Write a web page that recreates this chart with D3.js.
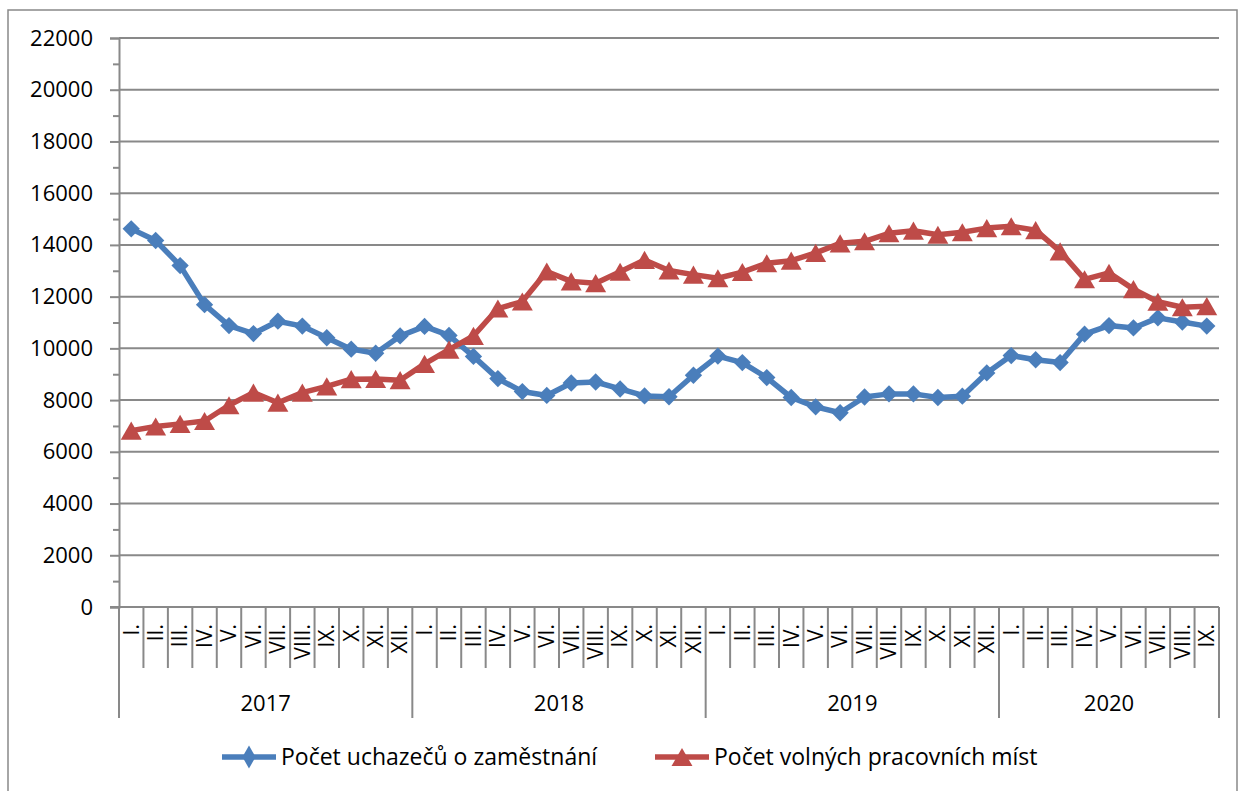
<!DOCTYPE html>
<html lang="cs">

<head>
    <meta charset="UTF-8">
    <title>Uchazeči a volná místa</title>
    <script src="https://unpkg.com/d3@7.8.5/dist/d3.min.js"></script>
    <style>
        body { margin: 0; background: #fff; }
        svg { display: block; font-family: "Open Sans", sans-serif; }
    </style>
</head>

<body>
    <svg width="1239" height="791"></svg>
    <script>
        // data
        var years = ['2017', '2018', '2019', '2020']
        var monthsPerYear = [12, 12, 12, 9]
        var months = ['I.', 'II.', 'III.', 'IV.', 'V.', 'VI.', 'VII.', 'VIII.', 'IX.', 'X.', 'XI.', 'XII.']
        var yTicks = [0, 2000, 4000, 6000, 8000, 10000, 12000, 14000, 16000, 18000, 20000, 22000]

        var uchazeci = [
            14620, 14170, 13200, 11690, 10880, 10570, 11050, 10860, 10410, 9970, 9810, 10480,
            10850, 10500, 9690, 8830, 8330, 8180, 8660, 8700, 8430, 8160, 8130, 8960,
            9700, 9450, 8870, 8100, 7740, 7510, 8120, 8240, 8240, 8100, 8150, 9050,
            9720, 9560, 9450, 10550, 10880, 10790, 11180, 11020, 10860
        ]
        var volnaMista = [
            6820, 6980, 7080, 7190, 7800, 8290, 7900, 8290, 8530, 8810, 8820, 8770,
            9400, 9950, 10480, 11540, 11810, 12970, 12590, 12520, 12960, 13420, 13010, 12850,
            12710, 12950, 13290, 13390, 13690, 14060, 14140, 14450, 14550, 14390, 14490, 14650,
            14720, 14570, 13750, 12670, 12920, 12290, 11800, 11590, 11630
        ]
        var seriesNames = ['Počet uchazečů o zaměstnání', 'Počet volných pracovních míst']

        // categories: one per month
        var cats = []
        years.forEach(function (y, yi) {
            for (var m = 0; m < monthsPerYear[yi]; m++) cats.push({ year: y, month: months[m], first: m == 0 })
        })

        var svg = d3.select('svg')
        var grey = '#898989'
        var blue = '#4a7ebb'
        var red = '#be4b48'

        // outer chart border
        svg.append('rect')
            .attr('x', 8).attr('y', 10).attr('width', 1229).attr('height', 800)
            .attr('fill', 'none').attr('stroke', grey).attr('stroke-width', 1.5)

        var plotLeft = 119, plotRight = 1219, plotTop = 38, plotBottom = 607

        var x = d3.scaleBand().domain(d3.range(cats.length)).range([plotLeft, plotRight]).padding(0)
        var y = d3.scaleLinear().domain([0, 22000]).range([plotBottom, plotTop])
        var cx = function (d, i) { return x(i) + x.bandwidth() / 2 }

        // gridlines
        svg.append('g').selectAll('line').data(yTicks.slice(1)).enter()
            .append('line')
            .attr('x1', plotLeft).attr('x2', plotRight)
            .attr('y1', y).attr('y2', y)
            .attr('stroke', grey).attr('stroke-width', 2)

        // y axis (major + minor ticks)
        var yAxis = svg.append('g').attr('transform', 'translate(' + plotLeft + ',0)')
            .call(d3.axisLeft(y).tickValues(yTicks).tickSize(9).tickPadding(17).tickFormat(d3.format('d')))
        svg.append('g').attr('transform', 'translate(' + plotLeft + ',0)')
            .call(d3.axisLeft(y).tickValues(d3.range(1000, 22000, 2000)).tickSize(6).tickFormat(''))
            .select('.domain').remove()
        svg.selectAll('.domain, .tick line').attr('stroke', grey).attr('stroke-width', 2)
        yAxis.selectAll('text').attr('font-size', 22).attr('fill', '#000')
            .attr('font-family', '"Open Sans", sans-serif')

        // x axis line + category dividers
        svg.append('line').attr('x1', plotLeft - 9).attr('x2', plotRight).attr('y1', plotBottom).attr('y2', plotBottom)
            .attr('stroke', grey).attr('stroke-width', 2)
        var bounds = d3.range(cats.length + 1)
        svg.append('g').selectAll('line').data(bounds).enter()
            .append('line')
            .attr('x1', function (i) { return x(0) + i * x.bandwidth() })
            .attr('x2', function (i) { return x(0) + i * x.bandwidth() })
            .attr('y1', plotBottom)
            .attr('y2', function (i) { return (i == cats.length || (cats[i] && cats[i].first)) ? 718 : 668 })
            .attr('stroke', grey).attr('stroke-width', 2)

        // month labels, rotated
        svg.append('g').selectAll('text').data(cats).enter()
            .append('text')
            .text(function (d) { return d.month })
            .attr('transform', function (d, i) { return 'translate(' + cx(d, i) + ',624) rotate(-90)' })
            .attr('text-anchor', 'end')
            .attr('dy', '0.35em')
            .attr('font-size', 21)

        // year labels
        var start = 0
        years.forEach(function (yr, yi) {
            var a = x(start), b = x(start + monthsPerYear[yi] - 1) + x.bandwidth()
            svg.append('text').text(yr)
                .attr('x', (a + b) / 2).attr('y', 711)
                .attr('text-anchor', 'middle').attr('font-size', 22)
            start += monthsPerYear[yi]
        })

        // series
        var line = d3.line().x(function (d, i) { return cx(d, i) }).y(function (d) { return y(d) })
        // square turned 45deg = excel-like diamond marker
        var square = d3.symbol().type(d3.symbolSquare).size(150)
        var diamond = d3.symbol().type(d3.symbolDiamond).size(150)
        var triangle = d3.symbol().type(d3.symbolTriangle).size(190)

        svg.append('path').datum(uchazeci).attr('d', line)
            .attr('fill', 'none').attr('stroke', blue).attr('stroke-width', 5.5).attr('stroke-linejoin', 'round')
        svg.append('path').datum(volnaMista).attr('d', line)
            .attr('fill', 'none').attr('stroke', red).attr('stroke-width', 5.5).attr('stroke-linejoin', 'round')

        svg.append('g').selectAll('path').data(uchazeci).enter()
            .append('path')
            .attr('d', square)
            .attr('transform', function (d, i) { return 'translate(' + cx(d, i) + ',' + y(d) + ') rotate(45)' })
            .attr('fill', blue)
        // triangle centred on its bounding box, like excel
        svg.append('g').selectAll('path').data(volnaMista).enter()
            .append('path')
            .attr('d', triangle)
            .attr('transform', function (d, i) { return 'translate(' + cx(d, i) + ',' + (y(d) + 3) + ')' })
            .attr('fill', red)

        // legend
        var legendItems = [
            { name: seriesNames[0], color: blue, sym: diamond, dy: 0, x: 222 },
            { name: seriesNames[1], color: red, sym: triangle, dy: 3, x: 655 }
        ]
        var legend = svg.append('g').attr('transform', 'translate(0,757)')
        legendItems.forEach(function (it) {
            legend.append('line').attr('x1', it.x).attr('x2', it.x + 54).attr('y1', 0).attr('y2', 0)
                .attr('stroke', it.color).attr('stroke-width', 5.5)
            legend.append('path').attr('d', it.sym).attr('fill', it.color)
                .attr('transform', 'translate(' + (it.x + 27) + ',' + it.dy + ')')
            legend.append('text').text(it.name)
                .attr('x', it.x + 59).attr('y', 0).attr('dy', '0.35em')
                .attr('font-size', 23)
        })
    </script>
</body>

</html>
